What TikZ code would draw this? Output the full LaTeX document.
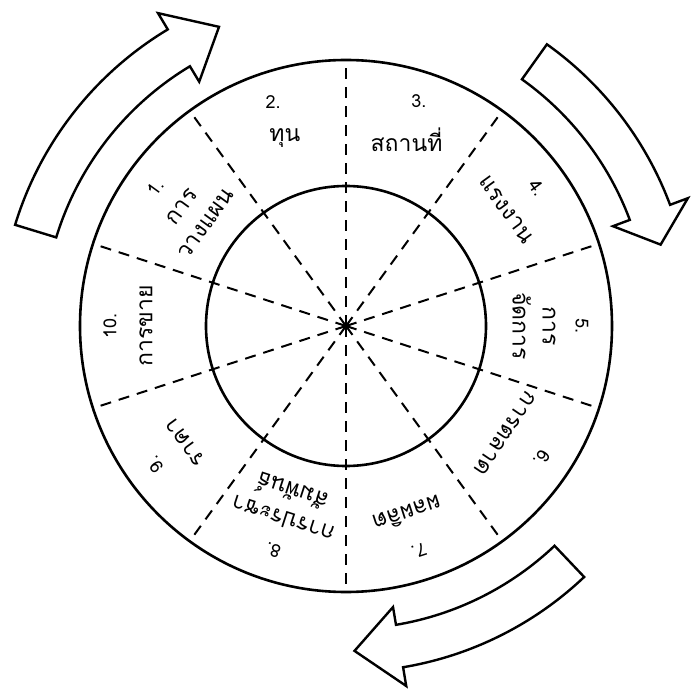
\documentclass[tikz,border=0pt]{standalone}
\usepackage{fontspec}
\newfontfamily\thaifont[Script=Thai]{Loma}
\usetikzlibrary{calc}
\tikzset{
  ring/.style      ={draw=black, line width=2.6pt},
  spoke/.style     ={draw=black, line width=2pt, dash pattern=on 11pt off 8pt},
  cyclearrow/.style={draw=black, line width=2.4pt, fill=white, line join=miter},
  numlbl/.style    ={font=\thaifont\fontsize{18}{20}\selectfont, inner sep=0pt},
  sectlbl/.style   ={font=\thaifont\fontsize{23}{30}\selectfont, align=center, inner sep=0pt},
}

\begin{document}
\begin{tikzpicture}[x=1pt, y=1pt]
    \def\rin{140}  \def\rout{266}
    \def\ra{303}   \def\rb{346}  \def\rbin{285}  \def\rbout{365}  \def\rtip{325}
    \useasboundingbox (-346,-362) rectangle (350,326);

    % rings
    \coordinate (c) at (0,0);
    \draw[ring] (c) circle[radius=\rout];
    \draw[ring] (c) circle[radius=\rin];

    % spokes
    \foreach \a in {18,54,...,342}{
      \draw[spoke] (c) -- (\a:\rout);
    }

    % sector labels
    \foreach \i/\ang/\rot/\rr/\txt in {1/144/54/188/{การ\\วางแผน}, 2/108/0/198/ทุน,
                                      3/72/0/196/สถานที่, 4/36/-54/198/แรงงาน,
                                      5/0/-90/188/{การ\\จัดการ}, 6/-34/-124/192/การตลาด,
                                      7/-72/-162/198/ผลผลิต, 8/-108/162/188/{การประชา\\สัมพันธ์},
                                      9/-144/126/198/ราคา, 10/180/90/200/การขาย}{
      \node[numlbl, rotate=\rot] (n\i) at (\ang:236) {\i.};
      \node[sectlbl, rotate=\rot] (t\i) at (\ang:\rr) {\txt};
    }

    % cycle arrows
    \foreach \s/\e/\t in {163/121/113, 54.5/20.5/14.5, -46.5/-80.5/-88.5}{
      \draw[cyclearrow] (\s:\rb) arc[start angle=\s, end angle=\e, radius=\rb]
          -- (\e:\rbout) -- (\t:\rtip) -- (\e:\rbin) -- (\e:\ra)
          arc[start angle=\e, end angle=\s, radius=\ra] -- cycle;
    }
\end{tikzpicture}
\end{document}
